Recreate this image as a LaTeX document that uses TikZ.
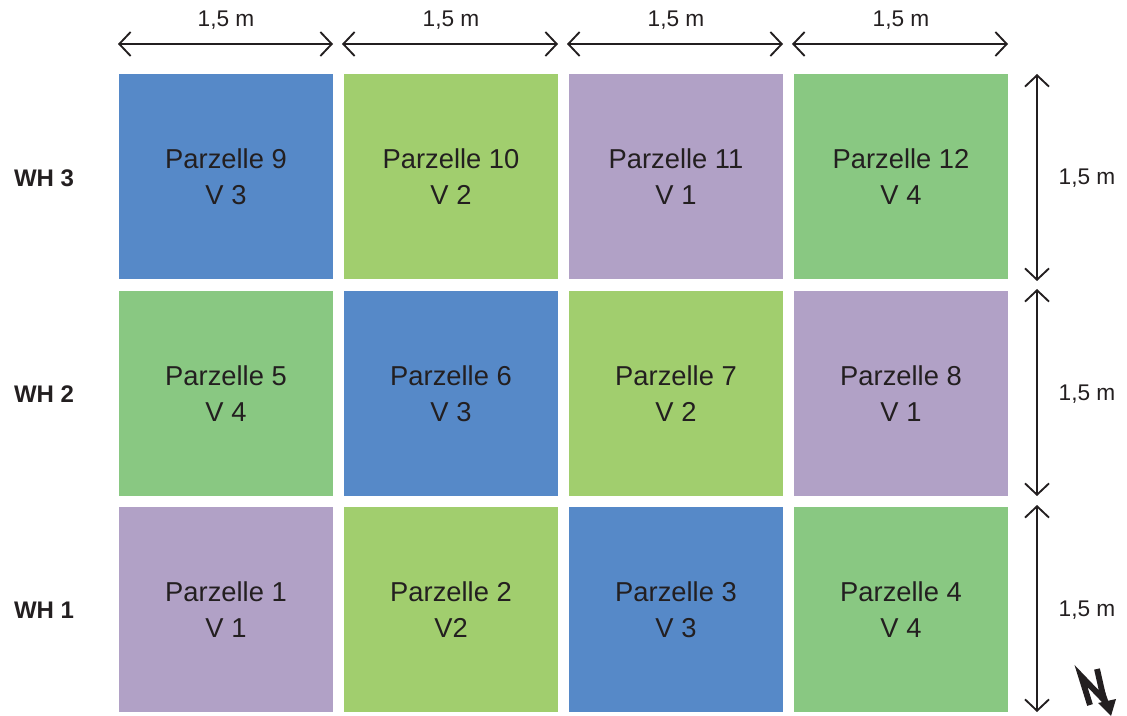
\documentclass[tikz,border=0pt]{standalone}
\usepackage{fontspec}
\setmainfont{Liberation Sans}
\usetikzlibrary{arrows.meta}
\definecolor{vblue}{HTML}{5689C8}
\definecolor{vlime}{HTML}{A1CE6E}
\definecolor{vlilac}{HTML}{B1A1C6}
\definecolor{vgreen}{HTML}{89C882}
\definecolor{ink}{HTML}{231F20}
\tikzset{
  cell/.style={rectangle, draw=none, minimum width=160.5pt, minimum height=153.75pt,
    inner sep=0pt, align=center, text=ink, font=\fontsize{20.5pt}{27pt}\selectfont},
  barb/.tip={Straight Barb[length=8.5pt,width=18pt,line width=1.4pt]},
  dim/.style={draw=ink, line width=1.5pt, barb-barb},
  dimlabel/.style={text=ink, font=\fontsize{17pt}{20pt}\selectfont, inner sep=0pt},
  rowlabel/.style={text=ink, font=\bfseries\fontsize{18pt}{20pt}\selectfont, inner sep=0pt}
}
\begin{document}
\begin{tikzpicture}[x=0.75pt, y=-0.75pt]
\useasboundingbox (0,0) rectangle (1127,716);

% plots, row by row (WH 3 on top)
\node[cell, fill=vblue]  (p9)  at (226,176.5) {Parzelle 9\\V 3};
\node[cell, fill=vlime]  (p10) at (451,176.5) {Parzelle 10\\V 2};
\node[cell, fill=vlilac] (p11) at (676,176.5) {Parzelle 11\\V 1};
\node[cell, fill=vgreen] (p12) at (901,176.5) {Parzelle 12\\V 4};

\node[cell, fill=vgreen] (p5) at (226,393.5) {Parzelle 5\\V 4};
\node[cell, fill=vblue]  (p6) at (451,393.5) {Parzelle 6\\V 3};
\node[cell, fill=vlime]  (p7) at (676,393.5) {Parzelle 7\\V 2};
\node[cell, fill=vlilac] (p8) at (901,393.5) {Parzelle 8\\V 1};

\node[cell, fill=vlilac] (p1) at (226,609.5) {Parzelle 1\\V 1};
\node[cell, fill=vlime]  (p2) at (451,609.5) {Parzelle 2\\V2};
\node[cell, fill=vblue]  (p3) at (676,609.5) {Parzelle 3\\V 3};
\node[cell, fill=vgreen] (p4) at (901,609.5) {Parzelle 4\\V 4};

% row labels
\node[rowlabel] (wh3) at (44,178) {WH 3};
\node[rowlabel] (wh2) at (44,394) {WH 2};
\node[rowlabel] (wh1) at (44,610) {WH 1};

% horizontal dimension lines
\coordinate (h0) at (118,44);
\coordinate (h1) at (333,44);
\coordinate (h2) at (342,44);
\coordinate (h3) at (558,44);
\coordinate (h4) at (567,44);
\coordinate (h5) at (783,44);
\coordinate (h6) at (792,44);
\coordinate (h7) at (1008,44);
\draw[dim] (h0) -- (h1);
\draw[dim] (h2) -- (h3);
\draw[dim] (h4) -- (h5);
\draw[dim] (h6) -- (h7);
\node[dimlabel] (w1) at (226,20) {1,5 m};
\node[dimlabel] (w2) at (451,20) {1,5 m};
\node[dimlabel] (w3) at (676,20) {1,5 m};
\node[dimlabel] (w4) at (901,20) {1,5 m};

% vertical dimension lines
\coordinate (v0) at (1037,74);
\coordinate (v1) at (1037,281);
\coordinate (v2) at (1037,289);
\coordinate (v3) at (1037,496);
\coordinate (v4) at (1037,505);
\coordinate (v5) at (1037,712);
\draw[dim] (v0) -- (v1);
\draw[dim] (v2) -- (v3);
\draw[dim] (v4) -- (v5);
\node[dimlabel] (l3) at (1087,178) {1,5 m};
\node[dimlabel] (l2) at (1087,394) {1,5 m};
\node[dimlabel] (l1) at (1087,610) {1,5 m};

% north arrow
\draw[ink, line width=4.4pt, line join=miter, line cap=butt]
  (1090,705) -- (1081,676) -- (1104,700) -- (1097,669);
\draw[ink, line width=3.2pt] (1100,684) -- (1107,704);
\fill[ink] (1098,703) -- (1116,699) -- (1111,716) -- cycle;
\end{tikzpicture}
\end{document}
